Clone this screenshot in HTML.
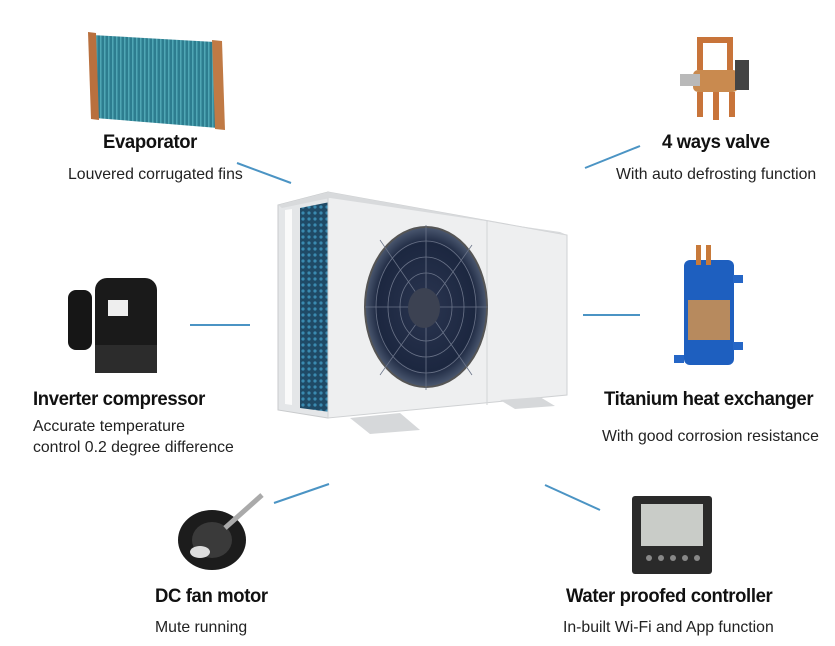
<!DOCTYPE html>
<html><head><meta charset="utf-8"><style>
html,body{margin:0;padding:0;background:#fff;}
body{width:835px;height:646px;position:relative;overflow:hidden;font-family:"Liberation Sans",sans-serif;color:#111;}
.t{position:absolute;font-weight:bold;font-size:19.5px;letter-spacing:-0.4px;white-space:nowrap;transform:scaleX(0.95);transform-origin:left top;}
.s{position:absolute;font-size:15.8px;white-space:nowrap;line-height:21px;color:#222;}
svg{position:absolute;left:0;top:0;}
</style></head><body>
<svg width="835" height="646" viewBox="0 0 835 646">
<defs>
<pattern id="hex" width="6" height="6" patternUnits="userSpaceOnUse"><rect width="6" height="6" fill="#1f4a66"/><circle cx="3" cy="3" r="1.6" fill="#3a8ab0"/></pattern>
<pattern id="fin" width="4" height="4" patternUnits="userSpaceOnUse"><rect width="4" height="4" fill="#2d7d8f"/><rect width="1.5" height="4" fill="#4fa6b4"/></pattern>
<radialGradient id="fan" cx="0.5" cy="0.5" r="0.5"><stop offset="0" stop-color="#2a3550"/><stop offset="0.8" stop-color="#1c2740"/><stop offset="1" stop-color="#4b5870"/></radialGradient>
</defs>
<g stroke="#4b94c4" stroke-width="2">
<line x1="237" y1="163" x2="291" y2="183"/>
<line x1="585" y1="168" x2="640" y2="146"/>
<line x1="190" y1="325" x2="250" y2="325"/>
<line x1="583" y1="315" x2="640" y2="315"/>
<line x1="274" y1="503" x2="329" y2="484"/>
<line x1="545" y1="485" x2="600" y2="510"/>
</g>
<polygon points="278,205 328,192 328,418 278,410" fill="#e4e6e8" stroke="#c8cacc"/>
<polygon points="300,208 330,202 330,412 300,408" fill="url(#hex)"/>
<polygon points="285,210 292,209 292,405 285,404" fill="#fafafa"/>
<polygon points="328,192 567,235 567,395 328,418" fill="#eeeff0" stroke="#cfd1d3"/>
<polygon points="278,205 328,192 567,235 560,232 330,198 282,208" fill="#d8dadc"/>
<line x1="487" y1="220" x2="487" y2="405" stroke="#d2d4d6"/>
<polygon points="350,418 400,413 420,430 370,434" fill="#d6d8da"/>
<polygon points="500,400 540,397 555,406 515,409" fill="#d6d8da"/>
<ellipse cx="426" cy="307" rx="61" ry="80" fill="url(#fan)" stroke="#555" stroke-width="2"/>
<g fill="none" stroke="#6a7388" stroke-width="0.8">
<ellipse cx="426" cy="307" rx="50" ry="66"/><ellipse cx="426" cy="307" rx="38" ry="50"/><ellipse cx="426" cy="307" rx="26" ry="34"/>
<line x1="426" y1="225" x2="426" y2="390"/><line x1="365" y1="307" x2="488" y2="307"/>
<line x1="380" y1="240" x2="472" y2="375"/><line x1="472" y1="245" x2="380" y2="375"/>
</g>
<ellipse cx="424" cy="308" rx="16" ry="20" fill="#3c4252"/>
<polygon points="92,35 215,42 218,128 95,118" fill="url(#fin)"/>
<polygon points="88,32 96,33 99,120 91,119" fill="#b9703e"/>
<polygon points="212,40 222,41 225,130 215,129" fill="#c07a45"/>
<path d="M700 70 v-30 h30 v40" fill="none" stroke="#c8743a" stroke-width="6"/>
<rect x="693" y="70" width="45" height="22" rx="5" fill="#c98a4f"/>
<rect x="680" y="74" width="20" height="12" fill="#b9b9b9"/>
<path d="M700 92 v25 M716 92 v28 M732 92 v25" stroke="#c8743a" stroke-width="6"/>
<rect x="735" y="60" width="14" height="30" fill="#444"/>
<rect x="68" y="290" width="24" height="60" rx="8" fill="#161616"/>
<rect x="95" y="278" width="62" height="92" rx="12" fill="#1a1a1a"/>
<rect x="108" y="300" width="20" height="16" fill="#eee"/>
<rect x="95" y="345" width="62" height="28" fill="#2c2c2c"/>
<rect x="684" y="260" width="50" height="105" rx="6" fill="#1e5fbf"/>
<rect x="688" y="300" width="42" height="40" fill="#b78a5e"/>
<rect x="696" y="245" width="5" height="20" fill="#c87a3a"/><rect x="706" y="245" width="5" height="20" fill="#c87a3a"/>
<rect x="733" y="275" width="10" height="8" fill="#2566c6"/><rect x="733" y="342" width="10" height="8" fill="#2566c6"/>
<rect x="674" y="355" width="10" height="8" fill="#2566c6"/>
<ellipse cx="212" cy="540" rx="34" ry="30" fill="#1c1c1c"/>
<ellipse cx="212" cy="540" rx="20" ry="18" fill="#3a3a3a"/>
<line x1="225" y1="528" x2="262" y2="495" stroke="#aaa" stroke-width="5"/>
<ellipse cx="200" cy="552" rx="10" ry="6" fill="#ddd"/>
<rect x="632" y="496" width="80" height="78" rx="3" fill="#2a2a2a"/>
<rect x="641" y="504" width="62" height="42" fill="#c9ccc8"/>
<g fill="#888"><circle cx="649" cy="558" r="3"/><circle cx="661" cy="558" r="3"/><circle cx="673" cy="558" r="3"/><circle cx="685" cy="558" r="3"/><circle cx="697" cy="558" r="3"/></g>
</svg>
<div class="t" style="left:103px;top:131px">Evaporator</div>
<div class="s" style="left:68px;top:164px">Louvered corrugated fins</div>
<div class="t" style="left:662px;top:131px">4 ways valve</div>
<div class="s" style="left:616px;top:164px">With auto defrosting function</div>
<div class="t" style="left:33px;top:388px">Inverter compressor</div>
<div class="s" style="left:33px;top:416px">Accurate temperature<br>control 0.2 degree difference</div>
<div class="t" style="left:604px;top:388px">Titanium heat exchanger</div>
<div class="s" style="left:602px;top:426px">With good corrosion resistance</div>
<div class="t" style="left:155px;top:585px">DC fan motor</div>
<div class="s" style="left:155px;top:617px">Mute running</div>
<div class="t" style="left:566px;top:585px">Water proofed controller</div>
<div class="s" style="left:563px;top:617px">In-built Wi-Fi and App function</div>
</body></html>
